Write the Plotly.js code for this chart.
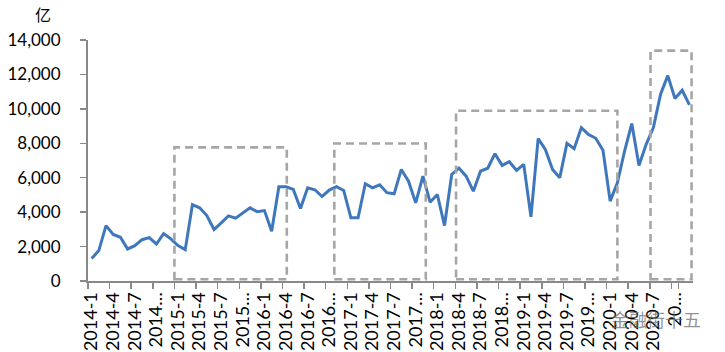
<!DOCTYPE html>
<html>
<head>
<meta charset="utf-8">
<script src="https://cdn.plot.ly/plotly-3.0.1.min.js"></script>
<style>
html,body{margin:0;padding:0;background:#fff;}
#chart{width:725px;height:352px;}
</style>
</head>
<body>
<div id="chart"></div>
<script>
// Monthly categories 2014-1 .. 2020-12
const years = [2014, 2015, 2016, 2017, 2018, 2019, 2020];
const months = [1,2,3,4,5,6,7,8,9,10,11,12];
const categories = [];
years.forEach(y => months.forEach(m => categories.push(y + '-' + m)));

// Values (亿)
const values = [
  1300, 1765, 3220, 2700, 2540, 1860, 2055, 2400, 2520, 2150, 2750, 2445,
  2055, 1820, 4440, 4250, 3800, 2990, 3380, 3785, 3650, 3960, 4250, 4020,
  4090, 2890, 5475, 5475, 5320, 4210, 5415, 5300, 4910, 5280, 5475, 5260,
  3670, 3670, 5650, 5415, 5590, 5130, 5065, 6480, 5800, 4540, 6090, 4580,
  5025, 3220, 6190, 6560, 6090, 5220, 6380, 6550, 7395, 6715, 6930, 6425,
  6775, 3725, 8270, 7645, 6480, 6000, 7995, 7690, 8910, 8510, 8290, 7590,
  4640, 5705, 7550, 9145, 6715, 7940, 8910, 10850, 11930, 10600, 11080, 10230
];

// Tick labels shown every third month (as truncated in the picture)
const tickCats = categories.filter((c, i) => i % 3 === 0);
const tickLabels = [
  '2014-1','2014-4','2014-7','2014…',
  '2015-1','2015-4','2015-7','2015…',
  '2016-1','2016-4','2016-7','2016…',
  '2017-1','2017-4','2017-7','2017…',
  '2018-1','2018-4','2018-7','2018…',
  '2019-1','2019-4','2019-7','2019…',
  '2020-1','2020-4','2020-7','20…'
];
const yTicks = [0, 2000, 4000, 6000, 8000, 10000, 12000, 14000];

const boxStyle = {color: '#A6A6A6', width: 2.6, dash: '8px,5px'};
function box(x0, x1, y0, y1) {
  return {type: 'rect', xref: 'x', yref: 'y', x0: x0, x1: x1, y0: y0, y1: y1,
          line: boxStyle, fillcolor: 'rgba(0,0,0,0)'};
}

const font = 'Lato, "Open Sans", "Liberation Sans", sans-serif';

Plotly.newPlot('chart', [{
  type: 'scatter', mode: 'lines',
  x: categories, y: values,
  line: {color: '#3F77BC', width: 3},
  hoverinfo: 'skip'
}], {
  width: 725, height: 352,
  margin: {l: 88, r: 32, t: 40, b: 71},
  paper_bgcolor: '#fff', plot_bgcolor: '#fff',
  showlegend: false,
  font: {family: font, color: '#000'},
  xaxis: {
    type: 'category', range: [-0.5, 83.5],
    tickmode: 'array', tickvals: tickCats, ticktext: tickLabels,
    tickson: 'boundaries', ticks: 'outside', ticklen: 6, tickwidth: 1.5, tickcolor: '#898989',
    tickangle: -90, tickfont: {family: font, size: 18, color: '#000'},
    showline: true, linecolor: '#898989', linewidth: 2,
    showgrid: false, zeroline: false, ticklabelstandoff: 2
  },
  yaxis: {
    range: [0, 14000], tickmode: 'array', tickvals: yTicks,
    tickformat: ',d', ticks: 'outside', ticklen: 6, tickwidth: 1.5, tickcolor: '#898989',
    tickfont: {family: font, size: 17, color: '#000'},
    showline: true, linecolor: '#898989', linewidth: 2,
    showgrid: false, zeroline: false, ticklabelstandoff: 16
  },
  shapes: [
    box(11.5, 27.1, 100, 7765),
    box(33.7, 46.4, 100, 7985),
    box(50.6, 73.0, 100, 9890),
    box(77.6, 83.3, 100, 13380)
  ],
  annotations: [
    {text: '亿', xref: 'paper', yref: 'paper', x: -0.074, y: 1.05, xanchor: 'center', yanchor: 'bottom',
     showarrow: false, font: {family: '"Noto Sans CJK SC", sans-serif', size: 16, color: '#000'}},
    {text: '金融街十五', xref: 'paper', yref: 'paper', x: 1.016, y: -0.158, xanchor: 'right', yanchor: 'middle',
     showarrow: false, font: {family: '"Noto Sans CJK SC", sans-serif', size: 18, color: 'rgba(110,110,110,0.75)'}}
  ]
}, {displayModeBar: false, staticPlot: true});
</script>
</body>
</html>
